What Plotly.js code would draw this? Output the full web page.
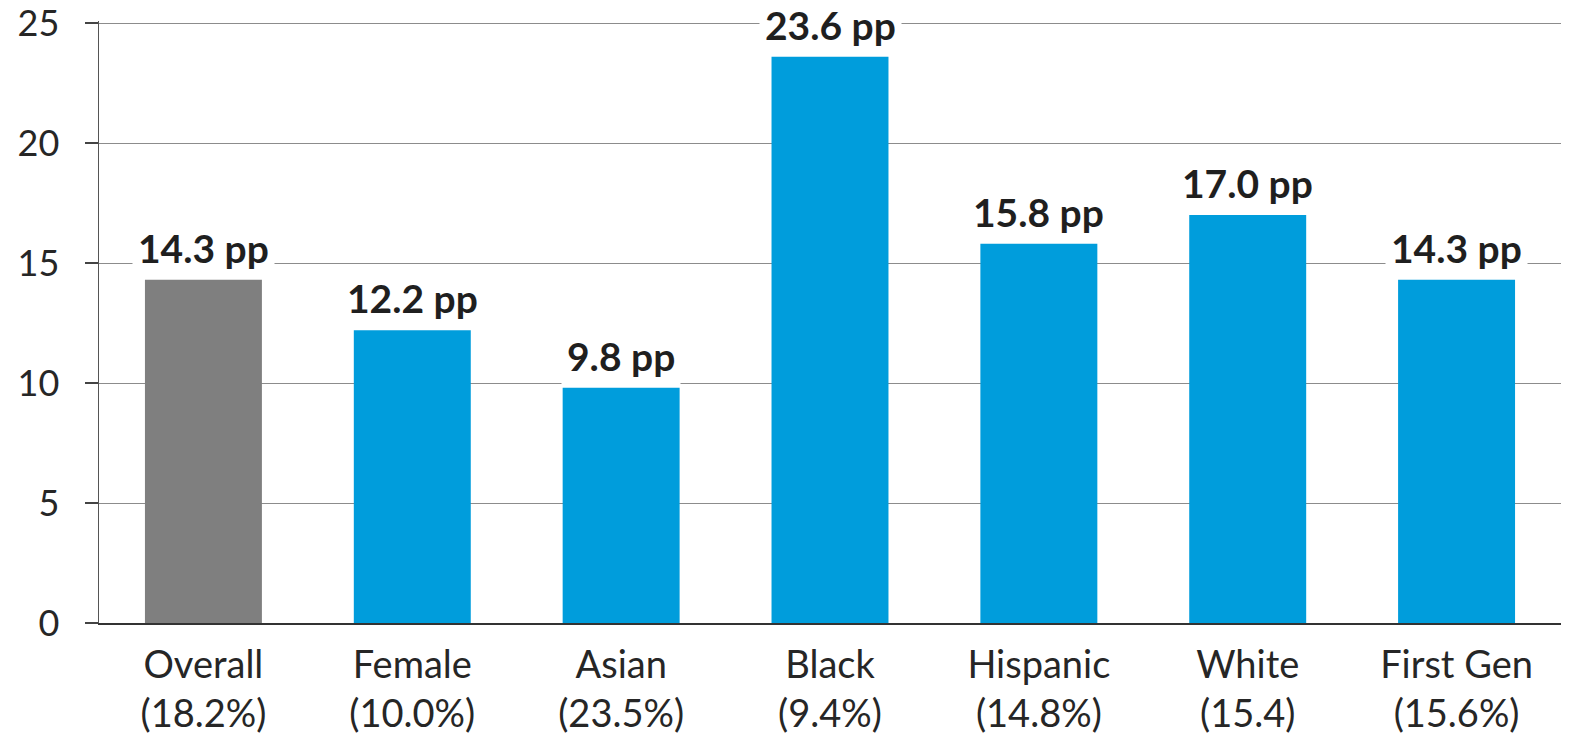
<!DOCTYPE html>
<html>
<head>
<meta charset="utf-8">
<script src="https://cdn.plot.ly/plotly-3.0.1.min.js"></script>
<style>html,body{margin:0;padding:0;background:#fff;}#chart{width:1570px;height:735px;}</style>
</head>
<body>
<div id="chart"></div>
<script>
const categories = ["Overall", "Female", "Asian", "Black", "Hispanic", "White", "First Gen"];
const subLabels = ["(18.2%)", "(10.0%)", "(23.5%)", "(9.4%)", "(14.8%)", "(15.4)", "(15.6%)"];
const gapValues = [14.3, 12.2, 9.8, 23.6, 15.8, 17.0, 14.3];
const barLabels = ["14.3 pp", "12.2 pp", "9.8 pp", "23.6 pp", "15.8 pp", "17.0 pp", "14.3 pp"];
const yTicks = [0, 5, 10, 15, 20, 25];

const FONT = "Lato, 'Open Sans', sans-serif";
const colors = categories.map((c, i) => i === 0 ? "#7F7F7F" : "#009DDC");
const tickText = categories.map((c, i) => c + "<br>" + subLabels[i]);

const trace = {
  type: "bar",
  x: categories,
  y: gapValues,
  marker: {color: colors, line: {width: 0}},
  hoverinfo: "skip"
};

const annotations = categories.map((c, i) => ({
  x: c, y: gapValues[i], xref: "x", yref: "y",
  text: "<b>" + barLabels[i] + "</b>",
  showarrow: false, yanchor: "bottom", yshift: 3,
  bgcolor: "#ffffff", borderpad: 5,
  font: {family: FONT, size: 39, color: "#1f1f1f"}
}));

const layout = {
  width: 1570, height: 735,
  margin: {l: 99, r: 9, t: 21, b: 112},
  paper_bgcolor: "#ffffff", plot_bgcolor: "#ffffff",
  showlegend: false,
  bargap: 0.44,
  font: {family: FONT, color: "#262626"},
  xaxis: {
    tickvals: categories, ticktext: tickText,
    tickfont: {family: FONT, size: 38, color: "#262626"},
    ticklabelstandoff: 7,
    showline: true, linecolor: "#333333", linewidth: 2,
    ticks: "", showgrid: false, zeroline: false, fixedrange: true
  },
  yaxis: {
    range: [0, 25.085], tickvals: yTicks, ticktext: yTicks.map(String),
    tickfont: {family: FONT, size: 36, color: "#262626"},
    ticklabeloverflow: "allow",
    ticks: "outside", ticklen: 13, tickcolor: "#444444", tickwidth: 1.5,
    ticklabelstandoff: 18,
    showline: true, linecolor: "#555555", linewidth: 1.5,
    showgrid: true, gridcolor: "#8c8c8c", gridwidth: 1,
    zeroline: false, fixedrange: true
  },
  annotations: annotations
};

Plotly.newPlot("chart", [trace], layout, {displayModeBar: false, staticPlot: true});
</script>
</body>
</html>
